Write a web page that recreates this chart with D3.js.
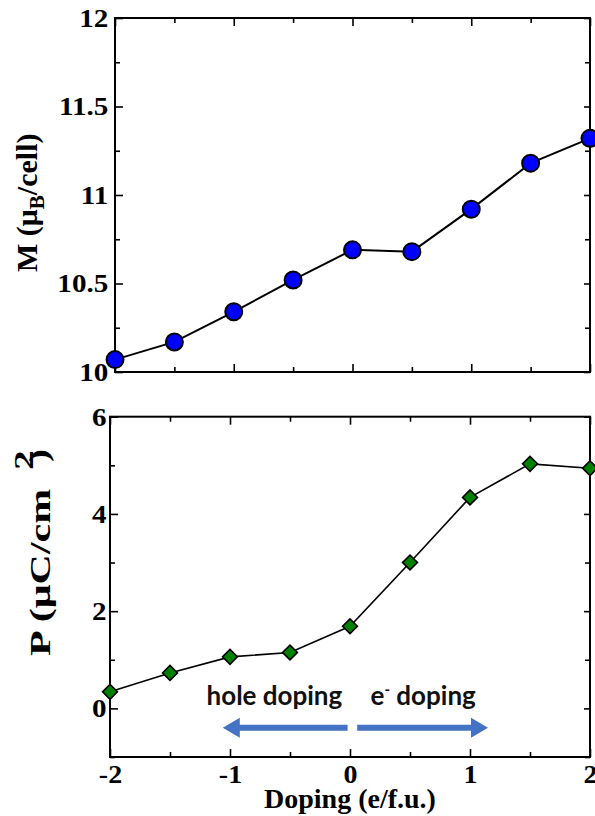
<!DOCTYPE html>
<html>
<head>
<meta charset="utf-8">
<script src="https://cdn.jsdelivr.net/npm/d3@7"></script>
<style>
  html, body { margin: 0; padding: 0; background: #fff; }
  svg { display: block; }
</style>
</head>
<body>
<svg id="chart" width="595" height="816"></svg>
<script>
// Doping levels (e/f.u.)
const doping = [-2, -1.5, -1, -0.5, 0, 0.5, 1, 1.5, 2];
// Magnetic moment per cell (μB)
const moment = [10.07, 10.17, 10.34, 10.52, 10.69, 10.68, 10.92, 11.18, 11.32];
// Polarization (μC/cm²)
const polarization = [0.34, 0.73, 1.06, 1.15, 1.69, 3.0, 4.34, 5.03, 4.94];

const xTicks = [-2, -1, 0, 1, 2];
const xTickLabels = ["-2", "-1", "0", "1", "2"];
const xMinor = [-1.5, -0.5, 0.5, 1.5];
const mTicks = [10, 10.5, 11, 11.5, 12];
const mTickLabels = ["10", "10.5", "11", "11.5", "12"];
const mMinor = [10.25, 10.75, 11.25, 11.75];
const pTicks = [0, 2, 4, 6];
const pTickLabels = ["0", "2", "4", "6"];
const pMinor = [-1, 1, 3, 5];

// Doping direction annotations
const arrowLevel = -0.4;
const arrowSpans = [[-0.02, -1.06], [0.06, 1.15]];
const dopingNotes = [
  { x: -0.63, y: 0.07, label: "hole doping", sup: null },
  { x: 0.61, y: 0.07, label: "e", sup: "-", rest: " doping" }
];

const svg = d3.select("#chart");
const serif = '"Liberation Serif", "Times New Roman", serif';

// Panel geometry
const upper = { x0: 115, x1: 590, y0: 18, y1: 372 };
const lower = { x0: 110, x1: 590, y0: 416.7, y1: 757 };

const xTop = d3.scaleLinear().domain([-2, 2]).range([upper.x0, upper.x1]);
const yTop = d3.scaleLinear().domain([10, 12]).range([upper.y1, upper.y0]);
const xBot = d3.scaleLinear().domain([-2, 2]).range([lower.x0, lower.x1]);
const yBot = d3.scaleLinear().domain([-1, 6]).range([lower.y1, lower.y0]);

function styleLabels(sel, size) {
  sel.selectAll("text")
    .attr("font-family", serif).attr("font-weight", "bold")
    .attr("font-size", size).attr("fill", "#000");
}

function frame(p, xs, ys, yMaj, yLab, yMin, showX, labelPad) {
  const g = svg.append("g").attr("font-family", serif);
  // inward ticks on all four sides
  const mk = (axisFn, scale, vals, size, fmt, tx, ty) => {
    const a = axisFn(scale).tickValues(vals).tickSize(-size).tickPadding(labelPad);
    a.tickFormat(fmt ? (d, i) => fmt[i] : () => "");
    const ga = g.append("g").attr("transform", `translate(${tx},${ty})`).call(a);
    ga.attr("font-family", serif);
    ga.select(".domain").remove();
    ga.selectAll(".tick line").attr("stroke", "#000").attr("stroke-width", 1.6);
    return ga;
  };
  const left = mk(d3.axisLeft, ys, yMaj, 8, yLab, p.x0, 0);
  styleLabels(left, 26);
  left.selectAll("text").attr("transform", "scale(1.12,1)");
  mk(d3.axisLeft, ys, yMin, 5, null, p.x0, 0);
  mk(d3.axisRight, ys, yMaj, 6, null, p.x1, 0);
  mk(d3.axisRight, ys, yMin, 5, null, p.x1, 0);
  const b = mk(d3.axisBottom, xs, xTicks, 8, showX ? xTickLabels : null, 0, p.y1);
  styleLabels(b, 25);
  b.selectAll("text").attr("y", 26).attr("dy", 0).attr("transform", "scale(1.12,1)");
  mk(d3.axisBottom, xs, xMinor, 5, null, 0, p.y1);
  mk(d3.axisTop, xs, xTicks, 8, null, 0, p.y0);
  mk(d3.axisTop, xs, xMinor, 5, null, 0, p.y0);
  g.append("rect")
    .attr("x", p.x0).attr("y", p.y0)
    .attr("width", p.x1 - p.x0).attr("height", p.y1 - p.y0)
    .attr("fill", "none").attr("stroke", "#000").attr("stroke-width", 2);
}

frame(upper, xTop, yTop, mTicks, mTickLabels, mMinor, false, 6);
frame(lower, xBot, yBot, pTicks, pTickLabels, pMinor, true, 3);

// Top panel: magnetic moment
const mPts = doping.map((d, i) => [d, moment[i]]);
svg.append("path")
  .datum(mPts)
  .attr("d", d3.line().x(d => xTop(d[0])).y(d => yTop(d[1])))
  .attr("fill", "none").attr("stroke", "#000").attr("stroke-width", 2);
svg.append("g").selectAll("circle").data(mPts).join("circle")
  .attr("cx", d => xTop(d[0])).attr("cy", d => yTop(d[1]))
  .attr("r", 8.5)
  .attr("fill", "#0000ff").attr("stroke", "#000").attr("stroke-width", 2);

// Bottom panel: polarization
const pPts = doping.map((d, i) => [d, polarization[i]]);
svg.append("path")
  .datum(pPts)
  .attr("d", d3.line().x(d => xBot(d[0])).y(d => yBot(d[1])))
  .attr("fill", "none").attr("stroke", "#000").attr("stroke-width", 1.6);
const diamond = d3.symbol().type(d3.symbolSquare).size(110);
svg.append("g").selectAll("path").data(pPts).join("path")
  .attr("d", diamond)
  .attr("transform", d => `translate(${xBot(d[0])},${yBot(d[1])}) rotate(45)`)
  .attr("fill", "#008000").attr("stroke", "#000").attr("stroke-width", 1.6);

// Doping direction arrows
const arrowColor = "#4472c4";
arrowSpans.forEach(([a, b]) => {
  const x0 = xBot(a), x1 = xBot(b), y = yBot(arrowLevel);
  const dir = Math.sign(x1 - x0);
  const headLen = 17, headHalf = 10, shaftHalf = 3;
  const xh = x1 - dir * headLen;
  const pts = [
    [x0, y - shaftHalf], [xh, y - shaftHalf], [xh, y - headHalf],
    [x1, y], [xh, y + headHalf], [xh, y + shaftHalf], [x0, y + shaftHalf]
  ];
  svg.append("path").attr("d", d3.line()(pts) + "Z").attr("fill", arrowColor);
});

dopingNotes.forEach(n => {
  const t = svg.append("text")
    .attr("x", xBot(n.x)).attr("y", yBot(n.y))
    .attr("text-anchor", "middle")
    .attr("font-family", "Lato, 'Open Sans', sans-serif")
    .attr("font-weight", "bold").attr("font-size", 26).attr("fill", "#111");
  t.append("tspan").text(n.label);
  if (n.sup) {
    t.append("tspan").attr("dy", -10).attr("font-size", 15).text(n.sup);
    t.append("tspan").attr("dy", 10).text(n.rest);
  }
});

// Axis titles
const mLab = svg.append("text")
  .attr("transform", "translate(37,272) rotate(-90)")
  .attr("font-family", serif).attr("font-weight", "bold").attr("font-size", 30);
mLab.append("tspan").text("M (\u03bc");
mLab.append("tspan").attr("dy", 7).attr("font-size", 21).text("B");
mLab.append("tspan").attr("dy", -7).text("/cell)");

// Polarization title: stretched along its length, with a raised exponent
const pLab = svg.append("g")
  .attr("transform", "translate(50,656) rotate(-90)")
  .attr("font-family", serif).attr("font-weight", "bold").attr("fill", "#000");
const pParts = [
  { s: "P (\u03bcC/cm", lx: 0, ly: 0, size: 30 },
  { s: "2", lx: 186, ly: -17, size: 28 },
  { s: ")", lx: 194, ly: -2, size: 28 }
];
pParts.forEach(d => {
  pLab.append("text")
    .attr("transform", `translate(${d.lx},${d.ly}) scale(1.4,1)`)
    .attr("font-size", d.size)
    .text(d.s);
});

svg.append("text")
  .attr("x", (lower.x0 + lower.x1) / 2).attr("y", 808)
  .attr("text-anchor", "middle")
  .attr("font-family", serif).attr("font-weight", "bold").attr("font-size", 28)
  .text("Doping (e/f.u.)");
</script>
</body>
</html>
